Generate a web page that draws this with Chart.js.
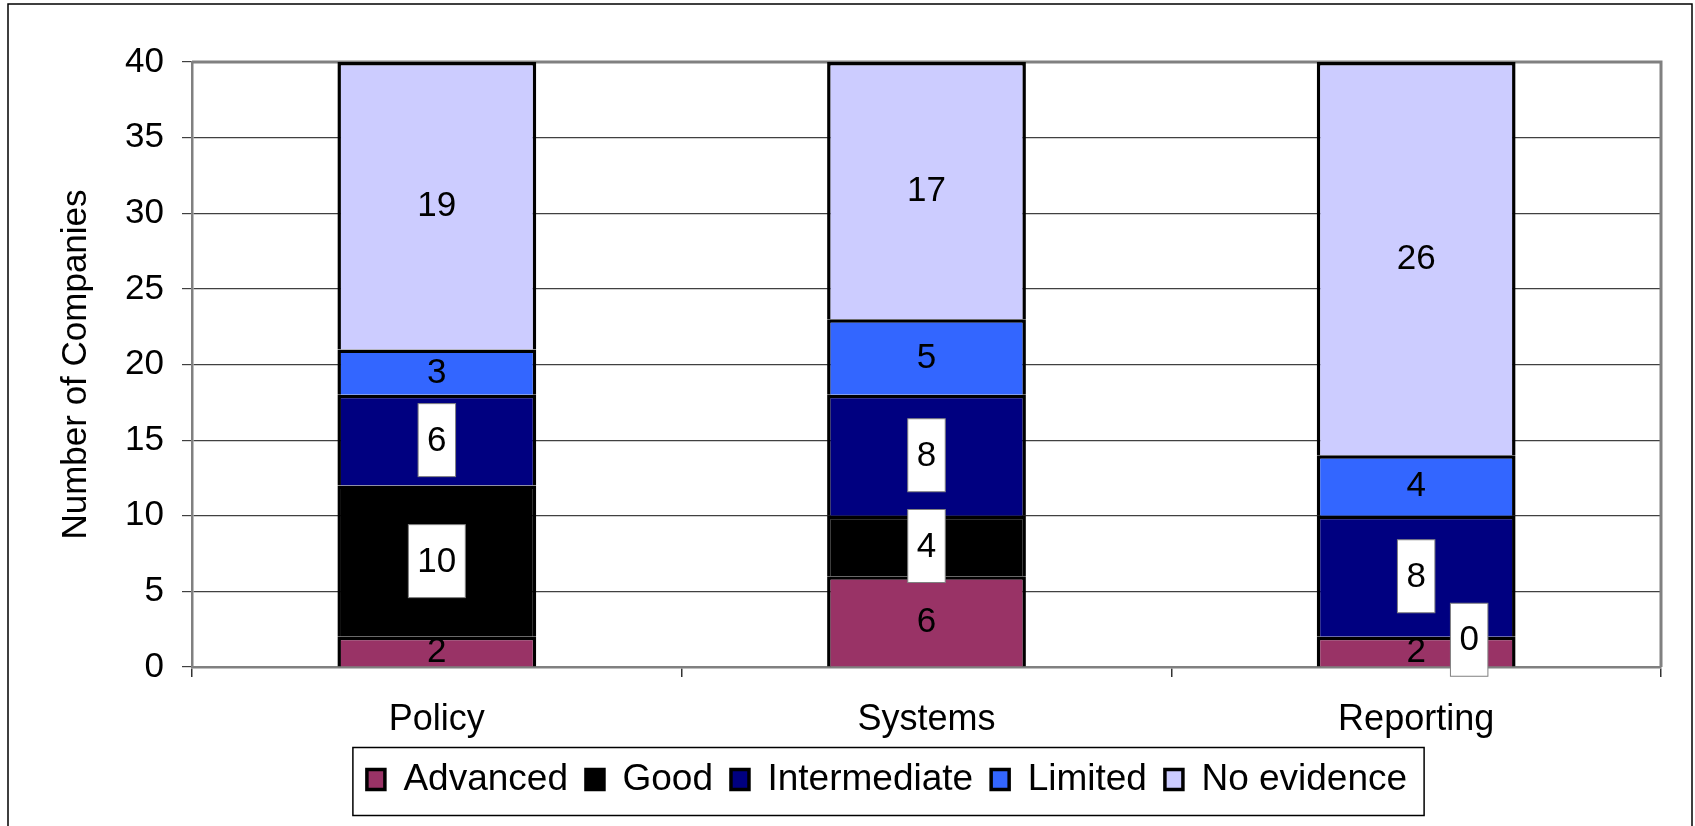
<!DOCTYPE html>
<html>
<head>
<meta charset="utf-8">
<script src="https://cdn.jsdelivr.net/npm/chart.js@4"></script>
<style>
  html, body { margin: 0; padding: 0; background: #fff; }
</style>
</head>
<body>
<canvas id="chart" width="1695" height="826"></canvas>
<script>
// data
const categories = ['Policy', 'Systems', 'Reporting'];
const advanced = [2, 6, 2];
const good = [10, 4, 0];
const intermediate = [6, 8, 8];
const limited = [3, 5, 4];
const noEvidence = [19, 17, 26];
const yMax = 40;
const yStep = 5;

const FONT = '"Liberation Sans", Arial, sans-serif';

// labels drawn with a white box, and the one label Excel nudged aside
const boxedSeries = ['Good', 'Intermediate'];
const labelShift = { 'Good-2': [53, 3] };

// outer frame + top/right border of the plot
const frame = {
    id: 'frame',
    beforeDraw(chart) {
        const ctx = chart.ctx;
        ctx.save();
        ctx.fillStyle = '#fff';
        ctx.fillRect(0, 0, chart.width, chart.height);
        ctx.strokeStyle = '#000';
        ctx.lineWidth = 1.5;
        ctx.strokeRect(8, 4, 1684, chart.height + 20);
        ctx.restore();
    },
    beforeDatasetsDraw(chart) {
        const { ctx, chartArea: a } = chart;
        ctx.save();
        ctx.strokeStyle = '#808080';
        ctx.lineWidth = 3;
        ctx.beginPath();
        ctx.moveTo(a.left, a.top);
        ctx.lineTo(a.right, a.top);
        ctx.lineTo(a.right, a.bottom);
        ctx.stroke();
        ctx.restore();
    },
    afterLayout(chart) {
        // the legend in the original sits a bit right of centre
        const lg = chart.legend;
        const shift = 887 - (lg.left + lg.right) / 2;
        lg.left += shift;
        lg.right += shift;
    },
    afterDraw(chart) {
        const lg = chart.legend;
        const hb = lg.legendHitBoxes;
        if (!hb || !hb.length) return;
        const first = hb[0], last = hb[hb.length - 1];
        const ctx = chart.ctx;
        ctx.save();
        ctx.strokeStyle = '#000';
        ctx.lineWidth = 1.5;
        const mid = first.top + first.height / 2;
        const left = first.left - 14;
        const right = last.left + last.width + 17;
        ctx.strokeRect(left, mid - 32, right - left, 68);
        ctx.restore();
    }
};

// value labels in the middle of each segment
const valueLabels = {
    id: 'valueLabels',
    afterDatasetsDraw(chart) {
        const ctx = chart.ctx;
        ctx.save();
        ctx.font = '35px ' + FONT;
        ctx.textAlign = 'center';
        ctx.textBaseline = 'middle';
        chart.data.datasets.forEach((ds, di) => {
            chart.getDatasetMeta(di).data.forEach((bar, i) => {
                const text = String(ds.data[i]);
                const s = labelShift[ds.label + '-' + i] || [0, 0];
                const x = bar.x + s[0];
                const y = (bar.y + bar.base) / 2 + s[1];
                if (boxedSeries.includes(ds.label)) {
                    const w = ctx.measureText(text).width + 18;
                    const h = 73;
                    ctx.fillStyle = '#fff';
                    ctx.fillRect(x - w / 2, y - h / 2, w, h);
                    ctx.strokeStyle = '#808080';
                    ctx.lineWidth = 1;
                    ctx.strokeRect(x - w / 2, y - h / 2, w, h);
                }
                ctx.fillStyle = '#000';
                ctx.fillText(text, x, y + 1);
            });
        });
        ctx.restore();
    }
};

function series(label, data, color) {
    return {
        label: label,
        data: data,
        backgroundColor: color,
        borderColor: '#000',
        borderWidth: 3.5,
        borderSkipped: 'bottom',
        categoryPercentage: 1,
        barPercentage: 0.406
    };
}

new Chart(document.getElementById('chart').getContext('2d'), {
    type: 'bar',
    data: {
        labels: categories,
        datasets: [
            series('Advanced', advanced, '#993366'),
            series('Good', good, '#000000'),
            series('Intermediate', intermediate, '#000080'),
            series('Limited', limited, '#3366FF'),
            series('No evidence', noEvidence, '#CCCCFF')
        ]
    },
    options: {
        responsive: false,
        animation: false,
        devicePixelRatio: 1,
        layout: { padding: { top: 62, right: 34, left: 0, bottom: 18 } },
        plugins: {
            tooltip: { enabled: false },
            legend: {
                position: 'bottom',
                labels: {
                    boxWidth: 18,
                    boxHeight: 20,
                    padding: 18,
                    color: '#000',
                    font: { family: FONT, size: 37 }
                }
            }
        },
        scales: {
            x: {
                stacked: true,
                afterFit(scale) { scale.height = 76; },
                grid: { offset: true, drawOnChartArea: false, tickLength: 10, color: '#333', lineWidth: 1.5 },
                border: { color: '#808080', width: 2.5 },
                ticks: { color: '#000', padding: 21, font: { family: FONT, size: 36 } }
            },
            y: {
                stacked: true,
                min: 0,
                max: yMax,
                afterFit(scale) { scale.width = 192; },
                grid: { color: '#404040', lineWidth: 1.2, tickLength: 10 },
                border: { color: '#808080', width: 2.5 },
                ticks: { stepSize: yStep, color: '#000', padding: 18, font: { family: FONT, size: 35 } },
                title: {
                    display: true,
                    text: 'Number of Companies',
                    color: '#000',
                    padding: { top: 55, bottom: 0 },
                    font: { family: FONT, size: 35 }
                }
            }
        }
    },
    plugins: [frame, valueLabels]
});
</script>
</body>
</html>
